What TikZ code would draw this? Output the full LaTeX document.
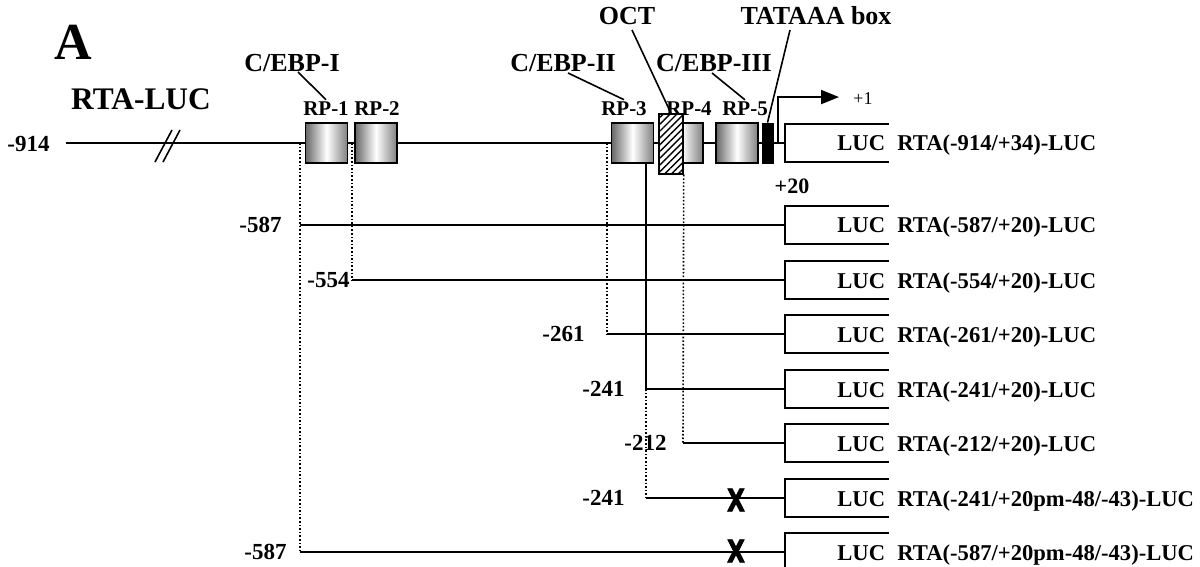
\documentclass[tikz,border=0pt]{standalone}
\usepackage{fontspec}
\setmainfont{Liberation Serif}
\newfontfamily\markfont[FakeBold=2.5]{DejaVu Sans}
\usetikzlibrary{calc, arrows.meta, patterns.meta}

\tikzset{
	lbl/.style={font=\bfseries\fontsize{13}{13}\selectfont, inner sep=1pt, anchor=base},
	rplbl/.style={font=\bfseries\fontsize{10.5}{11}\selectfont, inner sep=1pt, anchor=base},
	numlbl/.style={font=\bfseries\fontsize{11.5}{12}\selectfont, inner sep=0pt, anchor=base east},
	conlbl/.style={font=\bfseries\fontsize{11.3}{12}\selectfont, inner sep=0pt, anchor=base west},
	rpbox/.style={draw, line width=0.8pt, left color=black!60, right color=black!50, middle color=white, minimum width=21pt, minimum height=20pt, inner sep=0pt},
	octbox/.style={draw, line width=0.8pt, preaction={fill=white}, pattern={Lines[angle=45, distance=2.4pt, line width=0.7pt]}, minimum width=12pt, minimum height=30pt, inner sep=0pt},
	tatabox/.style={draw, fill=black, minimum width=5.5pt, minimum height=20pt, inner sep=0pt},
	mutx/.style={font=\markfont\bfseries\fontsize{15.5}{16}\selectfont, inner sep=0pt},
	dnaline/.style={line width=1pt},
	delline/.style={line width=0.8pt, densely dotted},
	leadline/.style={line width=0.8pt},
	lucbox/.style={line width=1pt}
}

\begin{document}
\begin{tikzpicture}[x=0.5pt, y=-0.5pt]
	\useasboundingbox (0,0) rectangle (1200,567);
	\node[font=\bfseries\fontsize{26}{26}\selectfont, inner sep=0pt, anchor=base] (panel) at (73,60) {A};
	\node[font=\bfseries\fontsize{15.7}{16}\selectfont, inner sep=0pt, anchor=base] (title) at (141,110) {RTA-LUC};
	\node[numlbl] (n914) at (50,152) {-914};
	\coordinate (m0) at (66,143);
	\coordinate (mf) at (785,143);
	\coordinate (c587) at (300,143);
	\coordinate (c554) at (352,143);
	\coordinate (c261) at (607,143);
	\coordinate (tss) at (778,143);
	\foreach \i/\y/\s/\nx/\n in {1/225/300/282/-587, 2/280/352/350/-554, 3/334/607/585/-261, 4/389/646/625/-241, 5/443/683/667/-212, 6/498/646/625/-241, 7/552/300/287/-587} {
		\coordinate (s\i) at (\s,\y);
		\coordinate (f\i) at (785,\y);
		\node[numlbl] (num\i) at (\nx,\y+7) {\n};
		\draw[dnaline] (s\i) -- (f\i);
	}
	\draw[delline] (c587) -- (s7);
	\draw[delline] (c554) -- (s2);
	\draw[delline] (c261) -- (s3);
	\draw[dnaline] (m0) -- (mf);
	\draw[leadline] (155,162) -- (172,130) (163,162) -- (180,130);
	\node[rpbox] (rp1) at (326.5,143) {};
	\node[rpbox] (rp2) at (376,143) {};
	\node[rpbox] (rp3) at (632.5,143) {};
	\node[rpbox] (rp4) at (682,143) {};
	\node[octbox] (oct) at (671,144) {};
	\node[rpbox] (rp5) at (737,143) {};
	\node[tatabox] (tata) at (767.5,143) {};
	\draw[leadline] (rp3.south -| s4) -- (s4);
	\draw[delline] (s4) -- (s6);
	\draw[delline] (oct.south east) -- (s5);
	\node[rplbl] (lrp1) at (326,116) {RP-1};
	\node[rplbl] (lrp2) at (377,116) {RP-2};
	\node[rplbl] (lrp3) at (624,116) {RP-3};
	\node[rplbl] (lrp4) at (689,116) {RP-4};
	\node[rplbl] (lrp5) at (745,116) {RP-5};
	\node[lbl] (cebp1) at (292,72) {C/EBP-I};
	\node[lbl] (cebp2) at (563,72) {C/EBP-II};
	\node[lbl] (cebp3) at (714,72) {C/EBP-III};
	\node[lbl] (octlbl) at (627,25) {OCT};
	\node[lbl] (tatalbl) at (816,25) {TATAAA box};
	\draw[leadline] ($(cebp1.base)+(6,0)$) -- (lrp1.north);
	\draw[leadline] ($(cebp2.base)+(5,1)$) -- (lrp3.north);
	\draw[leadline] ($(cebp3.base)+(-2,1)$) -- (lrp5.north);
	\draw[leadline] ($(octlbl.base)+(5,5)$) -- (oct.north);
	\draw[leadline] ($(tatalbl.base)+(-26,5)$) -- (tata.north);
	\node[font=\fontsize{9}{9}\selectfont, inner sep=0pt, anchor=base west] (plus1) at (853,105) {+1};
	\draw[dnaline, -{Triangle[length=9pt, width=7pt]}] (tss) |- ($(plus1.west)+(-14,-2)$);
	\node[font=\bfseries\fontsize{11}{11}\selectfont, inner sep=0pt, anchor=base] (plus20) at (792,193) {+20};
	\foreach \i/\y/\c in {0/143/{RTA(-914/+34)-LUC}, 1/225/{RTA(-587/+20)-LUC}, 2/280/{RTA(-554/+20)-LUC}, 3/334/{RTA(-261/+20)-LUC}, 4/389/{RTA(-241/+20)-LUC}, 5/443/{RTA(-212/+20)-LUC}, 6/498/{RTA(-241/+20pm-48/-43)-LUC}, 7/552/{RTA(-587/+20pm-48/-43)-LUC}} {
		\draw[lucbox] (889,\y-19) -- (785,\y-19) -- (785,\y+19) -- (889,\y+19);
		\node[conlbl] (luc\i) at (837,\y+8) {LUC};
		\node[conlbl] (con\i) at (897,\y+8) {\c};
	}
	\node[mutx] (mut6) at (736,500) {\scalebox{0.75}[1]{X}};
	\node[mutx] (mut7) at (736,551) {\scalebox{0.75}[1]{X}};
\end{tikzpicture}
\end{document}
